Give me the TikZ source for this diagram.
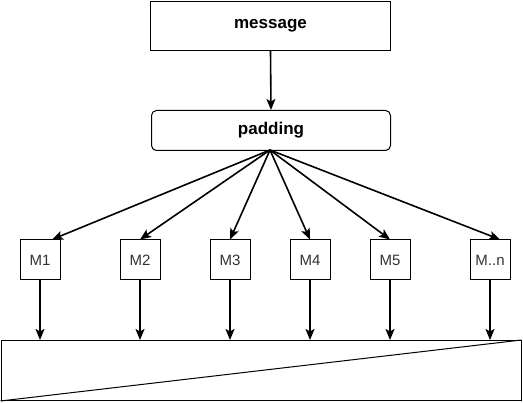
\documentclass[tikz,border=0pt]{standalone}
\usepackage{fontspec}
\setmainfont{Liberation Sans}
\usetikzlibrary{arrows.meta}
\begin{document}
\begin{tikzpicture}[x=1pt,y=-1pt,
  box/.style={draw=black,line width=1pt,fill=white,inner sep=0pt,anchor=north west},
  mbox/.style={draw=black,line width=1pt,fill=white,minimum width=40pt,minimum height=40pt,inner sep=0pt,font=\fontsize{15}{17}\selectfont,text=black!80},
  conn/.style={line width=1.6pt,-{Stealth[length=11pt,width=9pt,inset=2.5pt]}}]
\useasboundingbox (0,0) rectangle (523,403);
\node[box,minimum width=240pt,minimum height=49pt,font=\bfseries\fontsize{17}{19}\selectfont] (msg) at (150,1) {message};
\node[box,rounded corners=5pt,minimum width=239pt,minimum height=40pt,font=\bfseries\fontsize{17}{19}\selectfont] (pad) at (151,110) {padding};
\coordinate (fan) at (270,150);
\node[mbox] (m1) at (40,260) {M1};
\node[mbox] (m2) at (140,260) {M2};
\node[mbox] (m3) at (230,260) {M3};
\node[mbox] (m4) at (310,260) {M4};
\node[mbox] (m5) at (390,260) {M5};
\node[mbox] (mn) at (490,260) {M..n};
\node[draw=black,line width=1pt,minimum width=520pt,minimum height=60pt,inner sep=0pt,anchor=north west] (res) at (0.5,340) {};
\draw[line width=1pt] (res.south west) -- (res.north east);
\draw[conn] (msg.south) -- (pad.north);
\draw[conn] (fan) -- ([xshift=12pt]m1.north);
\draw[conn] (fan) -- (m2.north);
\draw[conn] (fan) -- (m3.north);
\draw[conn] (fan) -- (m4.north);
\draw[conn] (fan) -- (m5.north);
\draw[conn] (fan) -- ([xshift=10pt]mn.north);
\foreach \m in {m1,m2,m3,m4,m5,mn}{
  \draw[conn] (\m.south) -- (\m.south |- res.north);
}
\end{tikzpicture}
\end{document}
